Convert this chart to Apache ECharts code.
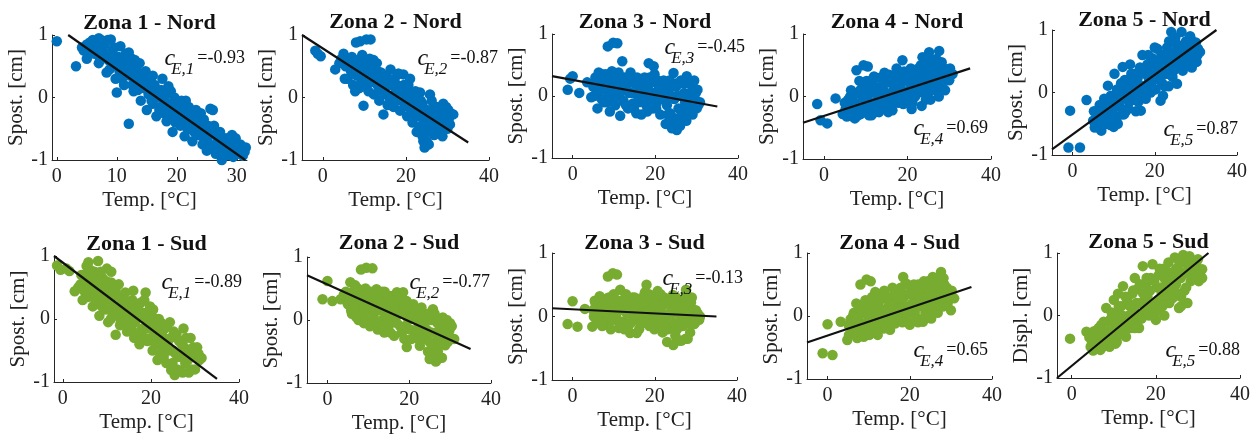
<!DOCTYPE html>
<html><head><meta charset="utf-8">
<script src="https://cdn.jsdelivr.net/npm/echarts@6/dist/echarts.min.js"></script>
<style>html,body{margin:0;padding:0;background:#fff}#c{width:1259px;height:437px}</style>
</head><body><div id="c"></div>
<script>
// ---------------- data ----------------
const titles = ['Zona 1 - Nord','Zona 2 - Nord','Zona 3 - Nord','Zona 4 - Nord','Zona 5 - Nord',
                'Zona 1 - Sud','Zona 2 - Sud','Zona 3 - Sud','Zona 4 - Sud','Zona 5 - Sud'];
const yNames = ['Spost. [cm]','Spost. [cm]','Spost. [cm]','Spost. [cm]','Spost. [cm]',
                'Spost. [cm]','Spost. [cm]','Spost. [cm]','Spost. [cm]','Displ. [cm]'];
const xName = 'Temp. [°C]';
const coefSub = ['E,1','E,2','E,3','E,4','E,5','E,1','E,2','E,3','E,4','E,5'];
const coefVal = ['-0.93','-0.87','-0.45','0.69','0.87','-0.89','-0.77','-0.13','0.65','0.88'];
const xTicks = [[0,10,20,30],[0,20,40],[0,20,40],[0,20,40],[0,20,40],
                [0,20,40],[0,20,40],[0,20,40],[0,20,40],[0,20,40]];
const yTicks = [-1,0,1];

const nord1 = [[0,0.9],[3.2,0.5],[4.2,0.8],[4.5,0.75],[5,0.62],[5.5,0.88],[5.8,0.78],[6,0.92],[6.3,0.7],[6.8,0.8],[7,0.55],[7.2,0.62],[7.4,0.92],[7.8,0.68],[8,0.85],[8.3,0.4],[8.6,0.6],[8.8,0.45],[9,0.93],[9.2,0.75],[9.5,0.5],[9.8,0.3],[10,0.08],[10.3,0.65],[10.6,0.82],[10.8,0.3],[11,0.45],[11.2,0.2],[11.5,0.7],[11.8,0.55],[12,-0.42],[12.2,0.35],[12.5,0.62],[12.8,0.1],[13,0.48],[13.3,0.25],[13.6,0.4],[13.8,0.55],[14,-0.05],[14.2,0.3],[14.5,0.15],[14.8,0.42],[15,-0.2],[15.3,0.05],[15.6,0.28],[16,-0.1],[16.3,0.2],[16.6,-0.3],[16.8,0.1],[17,0.0],[17.3,-0.15],[17.6,0.3],[18,-0.05],[18.3,-0.38],[18.6,0.18],[18.8,-0.2],[19,-0.25],[19.3,-0.55],[19.6,0.0],[19.8,-0.4],[20,-0.3],[20.3,-0.1],[20.6,-0.45],[21,-0.2],[21.3,-0.62],[21.6,-0.35],[22,-0.15],[22.3,-0.5],[22.6,-0.7],[23,-0.3],[23.3,-0.45],[23.6,-0.6],[24,-0.25],[24.3,-0.75],[24.6,-0.5],[25,-0.85],[25.3,-0.62],[25.6,-0.18],[26,-0.2],[26.2,-0.45],[26.5,-0.9],[26.8,-0.7],[27.2,-0.55],[27.5,-1.0],[27.8,-0.8],[28.2,-0.65],[28.5,-0.92],[28.8,-0.75],[29.2,-0.6],[29.5,-0.85],[30,-0.78],[30.4,-0.9],[30.8,-0.82],[31.3,-0.87],
  [5.2,0.72],[6.5,0.85],[7.5,0.75],[8.2,0.7],[9.4,0.62],[9.6,0.8],[10.2,0.55],[10.5,0.4],[11,0.62],[11.4,0.35],[11.6,0.5],[12.4,0.48],[12.6,0.2],[13.2,0.35],[13.5,0.12],[14.1,0.2],[14.4,0.32],[15.1,0.25],[15.4,0.12],[15.8,-0.05],[16.1,0.1],[16.5,0.05],[17.1,-0.2],[17.4,0.12],[17.8,-0.25],[18.2,0.05],[18.5,-0.12],[19.1,-0.1],[19.5,-0.3],[20.1,-0.18],[20.4,-0.35],[20.8,-0.05],[21.1,-0.42],[21.5,-0.25],[21.8,-0.5],[22.2,-0.3],[22.5,-0.4],[22.9,-0.55],[23.2,-0.2],[23.5,-0.38],[23.8,-0.5],[24.2,-0.62],[24.5,-0.35],[24.8,-0.7],[25.2,-0.45],[25.5,-0.75],[25.8,-0.55],[26.4,-0.8],[26.9,-0.6],[27.3,-0.85],[27.6,-0.68],[28,-0.9],[28.4,-0.8],[29,-0.72],[29.4,-0.95],[29.8,-0.65],[30.2,-0.85],[30.6,-0.75],[31,-0.93],[31.5,-0.8],[7,0.95],[8.5,0.92],[5,0.85],[12,0.72],[13,0.6],[16,0.35],[19,0.1],[21.5,-0.05]];
const nord2 = [[-1.8,0.75],[-1.2,0.7],[-0.5,0.66],[3,0.45],[4.5,0.62],[5,0.7],[5.3,0.3],[5.5,0.5],[6,0.3],[6.2,0.58],[6.8,0.42],[7,0.65],[7.3,0.2],[7.6,0.5],[7.8,0.1],[8,0.88],[8.2,0.35],[8.5,0.6],[8.8,0.15],[9,0.9],[9.2,0.48],[9.5,0.68],[9.8,-0.13],[10,0.3],[10.3,0.55],[10.5,0.93],[10.7,0.4],[11,0.1],[11.3,0.62],[11.5,0.93],[11.8,0.25],[12,0.45],[12.3,0.05],[12.6,0.35],[13,0.55],[13.3,0.18],[13.6,-0.05],[14,0.4],[14.3,0.22],[14.6,-0.27],[15,0.05],[15.3,0.35],[15.6,-0.12],[16,0.2],[16.3,0.45],[16.6,0.0],[17,-0.15],[17.3,0.3],[17.6,0.1],[18,-0.05],[18.3,0.38],[18.6,-0.21],[19,0.15],[19.4,0.37],[19.7,-0.1],[20,0.05],[20.3,-0.3],[20.6,0.2],[21,-0.15],[21.3,0.0],[21.6,-0.4],[22,-0.2],[22.3,0.1],[22.6,-0.55],[23,-0.3],[23.4,0.08],[23.7,-0.45],[24,-0.1],[24.2,-0.7],[24.5,-0.8],[24.8,-0.35],[25.2,-0.55],[25.5,-0.75],[25.8,0.05],[26,-0.2],[26.4,-0.45],[26.8,-0.6],[27.2,-0.3],[27.6,-0.5],[28,-0.15],[28.4,-0.4],[28.8,-0.62],[29,-0.1],[29.5,-0.3],[30,-0.5],[30.2,-0.2],[30.6,-0.43],[31.4,-0.27],
  [4,0.55],[5.8,0.62],[6.5,0.5],[7.2,0.55],[7.9,0.38],[8.4,0.5],[9,0.4],[9.4,0.25],[10.1,0.45],[10.5,0.2],[11,0.5],[11.5,0.35],[12.2,0.6],[12.5,0.25],[13.2,0.42],[13.8,0.3],[14.2,0.1],[14.8,0.35],[15.2,0.18],[15.8,0.3],[16.2,-0.05],[16.8,0.25],[17.2,0.05],[17.8,0.2],[18.1,0.38],[18.4,0.1],[19.2,-0.05],[19.5,0.2],[20.2,0.1],[20.5,-0.15],[21,0.3],[21.5,-0.1],[22.1,0.0],[22.5,-0.3],[23.2,-0.15],[23.6,-0.05],[24.3,-0.3],[24.6,-0.55],[25,-0.2],[25.3,-0.4],[25.9,-0.35],[26.2,-0.05],[26.6,-0.25],[27,-0.45],[27.4,-0.15],[27.8,-0.35],[28.2,-0.5],[28.6,-0.2],[29.2,-0.45],[29.7,-0.15],[30.3,-0.35],[30.8,-0.25],[25,-0.7],[24,-0.62],[23.2,-0.5]];
const nord3 = [[-1.2,0.1],[-0.6,0.28],[0,0.32],[1.6,0.05],[3.5,0.22],[4.5,-0.02],[5,0.15],[5.5,0.3],[6,0.05],[6,-0.2],[6.3,0.38],[6.7,0.2],[7,-0.05],[7.3,0.28],[7.7,0.12],[8,0.35],[8.3,-0.1],[8.5,0.8],[8.8,0.22],[9,-0.25],[9.2,0.05],[9.5,0.4],[9.8,0.86],[10,0.15],[10.3,-0.15],[10.8,0.85],[11,0.3],[11.3,0.0],[11.5,-0.32],[11.7,0.2],[12,0.56],[12.3,-0.08],[12.7,0.25],[13,0.1],[13.4,-0.2],[13.8,0.32],[14,0.38],[14.2,0.05],[14.6,-0.12],[15,0.2],[15.4,-0.28],[15.8,0.0],[16.2,0.18],[16.6,-0.3],[17,0.08],[17.4,0.3],[17.8,-0.15],[18.2,0.12],[18.4,0.53],[18.7,-0.05],[19,0.22],[19.4,-0.2],[19.6,0.48],[20,0.05],[20.4,-0.1],[20.8,0.15],[21.2,-0.3],[21.6,0.0],[22,0.25],[22.5,-0.45],[22.8,-0.15],[23.2,0.1],[23.6,-0.28],[24,-0.52],[24.4,0.37],[24.6,-0.05],[25,0.15],[25.2,-0.55],[25.6,-0.2],[26,-0.48],[26.4,0.0],[26.8,0.2],[27.2,-0.1],[27.5,-0.4],[27.6,0.32],[28,-0.25],[28.4,0.05],[28.8,-0.15],[29.2,0.13],[29.6,-0.05],[30,-0.2],[30.8,-0.1],
  [5.2,0.0],[5.8,0.2],[6.5,0.1],[7.2,0.35],[7.5,-0.1],[8.1,0.18],[8.6,0.05],[9.1,0.3],[9.7,-0.05],[10.2,0.25],[10.6,0.05],[11.1,0.38],[11.9,0.1],[12.5,0.3],[12.9,-0.15],[13.2,0.2],[13.6,0.05],[14.4,0.25],[14.8,-0.2],[15.2,0.05],[15.6,0.3],[16,-0.1],[16.4,0.1],[17.2,-0.05],[17.6,0.15],[18,-0.25],[18.6,0.3],[19.2,0.05],[19.8,0.35],[20.2,-0.2],[20.6,0.25],[21,-0.05],[21.4,0.2],[22.2,-0.05],[22.6,0.1],[23,-0.3],[23.4,0.25],[23.9,0.0],[24.3,-0.35],[24.8,0.2],[25.4,0.0],[25.8,-0.35],[26.2,0.25],[26.6,-0.25],[27,0.05],[27.8,-0.2],[28.2,0.2],[28.6,-0.05],[29,-0.3],[29.4,0.25],[29.8,0.05],[30.4,-0.15],[30.2,0.1],[25,-0.45],[23.5,-0.45]];
const nord4 = [[-1.6,-0.12],[-0.8,-0.38],[0.8,-0.43],[2.8,-0.03],[4.5,-0.28],[5,-0.1],[5.5,-0.32],[6,-0.18],[6.3,0.0],[6.5,0.1],[6.7,-0.25],[7,-0.08],[7.4,-0.35],[7.8,0.42],[8,-0.15],[8.4,0.05],[8.5,0.25],[8.8,-0.28],[9.2,-0.05],[9.5,0.5],[9.8,0.12],[10,-0.2],[10.4,0.0],[10.5,0.48],[10.8,-0.3],[11.2,0.2],[11.5,-0.12],[11.9,0.08],[12,0.32],[12.3,-0.25],[12.7,0.15],[13,-0.05],[13.4,0.3],[13.8,-0.18],[14.2,0.1],[14.5,0.38],[14.6,-0.02],[15,0.22],[15.4,-0.25],[15.8,0.05],[16.2,0.3],[16.4,-0.22],[16.8,0.12],[17.2,-0.08],[17.6,0.35],[18,0.05],[18.4,0.2],[18.8,0.58],[19,-0.12],[19.4,0.28],[19.8,0.08],[20.2,0.4],[20.6,-0.05],[21,0.18],[21,-0.2],[21.4,0.35],[21.8,0.0],[22.2,0.25],[22.6,0.45],[23,0.1],[23.4,-0.15],[23.6,0.63],[23.8,0.3],[24.2,0.05],[24.6,0.4],[25,0.18],[25.2,0.71],[25.5,-0.05],[25.9,0.32],[26.3,0.12],[26.7,0.5],[27.1,0.22],[27.5,0.0],[27.6,0.73],[28,0.38],[28.4,0.15],[28.8,0.45],[29.2,0.28],[30,0.26],[30.8,0.36],
  [5.2,-0.2],[5.8,-0.05],[6.2,-0.3],[6.9,-0.15],[7.2,0.05],[7.6,-0.22],[8.2,-0.3],[8.7,0.1],[9,-0.18],[9.4,0.15],[9.9,-0.1],[10.2,0.25],[10.6,-0.18],[11,0.05],[11.4,-0.3],[11.7,0.28],[12.1,-0.1],[12.5,0.05],[13.2,-0.25],[13.6,0.15],[14,-0.1],[14.4,0.25],[14.8,-0.2],[15.2,0.05],[15.6,0.35],[16,-0.1],[16.6,0.22],[17,0.0],[17.4,0.45],[17.8,-0.1],[18.2,0.3],[18.6,0.05],[19.2,0.4],[19.6,-0.05],[20,0.25],[20.4,0.1],[20.8,0.45],[21.2,-0.1],[21.6,0.2],[22,0.4],[22.4,0.05],[22.8,0.3],[23.2,0.5],[23.5,0.15],[24,0.35],[24.4,-0.05],[24.8,0.25],[25.3,0.5],[25.7,0.1],[26.1,0.4],[26.5,0.2],[26.9,0.6],[27.3,0.35],[27.8,0.15],[28.2,0.55],[28.6,0.3],[29,0.1],[29.5,0.4],[30.2,0.45],[25.5,0.6],[24,0.6]];
const nord5 = [[-1,-0.88],[-0.6,-0.29],[1.8,-0.88],[3.4,-0.12],[5,-0.45],[5.4,-0.56],[5.8,-0.3],[6.2,-0.48],[6.6,-0.2],[7,-0.61],[7.3,-0.38],[7.7,-0.1],[8,-0.5],[8.3,-0.25],[8.6,0.11],[9,-0.42],[9.3,-0.05],[9.6,-0.3],[10,-0.55],[10.2,0.3],[10.5,-0.15],[10.8,0.05],[11,-0.5],[11.4,-0.22],[11.8,0.15],[12.2,0.41],[12.5,-0.35],[12.8,-0.05],[13.2,0.2],[13.5,-0.25],[13.9,0.05],[14,0.45],[14.3,0.3],[14.6,-0.12],[15,0.1],[15.4,-0.3],[15.8,0.22],[16.2,0.0],[16.6,-0.29],[17,0.35],[17,0.6],[17.4,0.1],[17.8,-0.1],[18.2,0.45],[18.6,0.2],[19,0.0],[19.4,0.55],[19.8,0.3],[20,0.72],[20.2,0.05],[20.6,0.7],[21,0.4],[21.4,-0.13],[21.8,0.15],[22,-0.05],[22.2,0.6],[22.6,0.3],[23,0.72],[23.4,0.1],[23.8,0.45],[24,0.97],[24.3,0.25],[24.7,0.65],[25,0.8],[25.4,0.14],[25.8,0.5],[26.2,0.75],[26.5,0.97],[26.8,0.35],[27.2,0.6],[27.6,0.82],[28,0.45],[28.4,0.7],[28.8,0.85],[29.2,0.55],[29.6,0.75],[30.2,0.49],[30.5,0.7],[31,0.65],
  [5.2,-0.3],[5.6,-0.45],[6,-0.55],[6.4,-0.35],[6.8,-0.48],[7.2,-0.25],[7.5,-0.52],[7.9,-0.35],[8.2,-0.15],[8.5,-0.45],[8.9,-0.2],[9.2,-0.52],[9.5,-0.12],[9.9,-0.35],[10.3,-0.05],[10.6,-0.4],[11.1,-0.2],[11.5,0.05],[11.9,-0.35],[12.3,-0.1],[12.7,0.2],[13,-0.3],[13.4,0.05],[13.8,-0.15],[14.2,0.15],[14.8,-0.05],[15.2,0.3],[15.6,0.05],[16,-0.15],[16.4,0.4],[16.8,0.1],[17.2,-0.05],[17.6,0.3],[18,0.1],[18.4,0.6],[18.8,0.35],[19.2,0.15],[19.6,0.45],[20.4,0.3],[20.8,0.5],[21.2,0.2],[21.6,0.6],[22,0.35],[22.4,0.1],[22.8,0.5],[23.2,0.3],[23.6,0.65],[24.2,0.5],[24.6,0.35],[25,0.6],[25.6,0.7],[26,0.4],[26.4,0.6],[26.9,0.75],[27.4,0.5],[27.9,0.7],[28.2,0.6],[28.6,0.9],[29,0.4],[29.4,0.65],[30,0.8],[30.4,0.6],[25,0.88],[23.5,0.82]];
const sud1 = [[-1.3,0.85],[-0.5,0.78],[0.8,0.8],[1.5,0.76],[2.7,0.44],[4,0.55],[4.5,0.3],[5,0.7],[5.4,0.84],[5.8,0.9],[6,0.45],[6.4,0.62],[6.8,0.2],[7,0.35],[7.2,0.75],[7.6,0.5],[8,0.92],[8.3,0.05],[8.6,0.35],[9,0.65],[9.3,0.15],[9.7,0.45],[10,0.8],[10.3,-0.05],[10.7,0.3],[11,0.58],[11,0.75],[11.4,0.1],[11.8,0.4],[12,-0.25],[12.3,0.2],[12.7,0.55],[13,-0.1],[13.4,0.3],[13.8,0.05],[14.2,0.42],[14.6,-0.2],[15,0.15],[15.4,-0.05],[15.8,0.3],[16,0.45],[16.2,-0.3],[16.6,0.0],[17,0.18],[17.4,-0.4],[17.7,0.26],[18,-0.15],[18.4,0.05],[18.8,0.42],[19.2,-0.35],[19.6,-0.1],[20,0.1],[20.4,-0.5],[20.8,-0.2],[21.2,0.0],[21.5,-0.65],[21.9,-0.3],[22.3,-0.06],[22.7,-0.45],[23.1,-0.15],[23.5,-0.7],[23.9,-0.35],[24.3,-0.05],[24.6,-0.81],[25,-0.5],[25.4,-0.89],[25.8,-0.25],[26.2,-0.6],[26.6,-0.82],[27,-0.4],[27.4,-0.15],[27.8,-0.7],[28.2,-0.5],[28.6,-0.85],[29,-0.3],[29.4,-0.6],[30,-0.8],[30.5,-0.45],[31,-0.65],[31.5,-0.62],
  [3.5,0.5],[4.2,0.7],[4.8,0.45],[5.2,0.6],[5.6,0.35],[6.2,0.78],[6.6,0.5],[7,0.65],[7.4,0.3],[7.8,0.6],[8.2,0.45],[8.6,0.75],[8.9,0.2],[9.2,0.5],[9.5,0.3],[9.9,0.6],[10.2,0.15],[10.5,0.45],[10.9,0.0],[11.2,0.35],[11.6,0.2],[12,0.45],[12.5,0.05],[12.9,0.35],[13.2,-0.05],[13.6,0.15],[14,0.3],[14.4,-0.1],[14.8,0.05],[15.2,0.25],[15.6,-0.15],[16,0.1],[16.4,-0.05],[16.8,-0.25],[17.2,0.05],[17.6,-0.2],[18.2,0.1],[18.6,-0.3],[19,0.0],[19.4,-0.15],[19.8,0.2],[20.2,-0.3],[20.6,-0.05],[21,-0.4],[21.4,-0.15],[21.8,0.0],[22.1,-0.55],[22.5,-0.25],[22.9,-0.6],[23.3,-0.35],[23.7,-0.1],[24.1,-0.5],[24.5,-0.3],[24.9,-0.7],[25.2,-0.2],[25.6,-0.55],[26,-0.8],[26.4,-0.35],[26.8,-0.6],[27.2,-0.85],[27.6,-0.45],[28,-0.3],[28.4,-0.65],[28.8,-0.5],[29.2,-0.8],[29.6,-0.45],[30.2,-0.6],[30.8,-0.55],[18.5,0.3],[20.5,0.15]];
const sud2 = [[-1.2,0.33],[0,0.62],[1.2,0.3],[3.2,0.33],[4.5,0.45],[5,0.25],[5.6,0.6],[6,0.1],[6.4,0.4],[6.8,0.55],[7,0.35],[7.2,0.2],[7.6,0.0],[8,0.45],[8.2,0.8],[8.5,0.3],[8.9,-0.05],[9.3,0.5],[9.5,0.83],[9.7,0.15],[10,0.35],[10.4,-0.1],[10.8,0.25],[11,0.82],[11.3,0.05],[11.7,0.4],[12,0.49],[12.3,-0.15],[12.7,0.2],[13.1,0.35],[13.5,0.0],[13.9,-0.2],[14,0.45],[14.3,0.3],[14.7,0.1],[15.1,-0.08],[15.5,0.38],[15.9,0.15],[16.3,-0.25],[16.7,0.05],[17,0.44],[17.4,0.2],[17.8,-0.1],[18.2,0.3],[18.5,0.44],[18.8,-0.3],[19.1,0.08],[19.4,-0.43],[19.8,0.2],[20.2,-0.15],[20.6,0.05],[21,0.25],[21.4,-0.25],[21.8,0.0],[22.2,0.15],[22.6,-0.41],[23,-0.1],[23.4,0.1],[23.8,-0.3],[24.2,0.0],[24.6,-0.5],[25,-0.62],[25.4,-0.2],[25.8,0.17],[26.2,-0.35],[26.5,-0.66],[26.9,-0.05],[27.3,-0.4],[27.7,-0.15],[28,-0.6],[28.2,0.04],[28.6,-0.25],[29,-0.05],[29.4,-0.35],[29.8,-0.17],[30.4,-0.1],[31,-0.3],
  [4,0.4],[5.3,0.35],[5.8,0.15],[6.2,0.45],[6.6,0.25],[7,0.05],[7.4,0.5],[7.8,0.3],[8.2,0.1],[8.6,0.4],[9,0.2],[9.4,0.0],[9.8,0.4],[10.2,0.15],[10.6,0.45],[11,-0.05],[11.4,0.3],[11.8,0.15],[12.2,0.35],[12.6,-0.05],[13,0.15],[13.4,0.45],[13.8,0.25],[14.2,0.05],[14.6,-0.1],[15,0.2],[15.4,-0.2],[15.8,0.0],[16.2,0.3],[16.6,0.15],[17,-0.05],[17.4,0.35],[17.8,0.1],[18.2,-0.2],[18.6,0.2],[19,-0.1],[19.4,0.3],[19.8,0.0],[20.2,0.15],[20.6,-0.3],[21,0.05],[21.4,0.15],[21.8,-0.15],[22.2,-0.3],[22.6,0.05],[23,0.2],[23.4,-0.25],[23.8,0.05],[24.2,-0.15],[24.6,0.1],[25,-0.35],[25.4,0.0],[25.8,-0.5],[26.2,0.1],[26.6,-0.2],[27,-0.5],[27.4,0.0],[27.8,-0.3],[28.4,-0.1],[28.8,-0.4],[29.2,0.0],[29.6,-0.25],[30,-0.05],[30.5,-0.3],[27,-0.62]];
const sud3 = [[-1.2,-0.12],[0,0.24],[1.2,-0.16],[3,0.12],[4.8,-0.16],[5,0.1],[5.4,0.25],[5.8,-0.05],[6.2,0.15],[6.6,0.32],[7,0.0],[7.4,0.2],[7.8,-0.12],[8,-0.1],[8.2,0.28],[8.6,0.63],[8.9,0.05],[9.3,-0.2],[9.6,0.18],[9.8,0.68],[10,0.35],[10.4,-0.05],[10.8,0.66],[11,0.1],[11.3,-0.18],[11.6,0.42],[12,0.2],[12.4,-0.08],[12.8,0.3],[13,0.35],[13.2,0.05],[13.6,-0.15],[14,-0.26],[14.3,0.22],[14.7,0.0],[15.1,0.3],[15.6,-0.26],[16,0.12],[16.4,-0.1],[16.8,0.25],[17.2,0.0],[17.6,0.38],[18,0.5],[18.3,0.15],[18.7,-0.15],[19.1,0.28],[19.5,0.05],[19.9,-0.2],[20.3,0.2],[20.7,0.4],[21,0.3],[21.1,-0.05],[21.5,0.15],[21.9,-0.25],[22.3,0.3],[22.8,0.0],[23,-0.4],[23.4,0.2],[23.8,-0.15],[24.2,0.05],[24.4,0.34],[24.5,-0.45],[25,0.15],[25.4,-0.2],[25.8,0.25],[26,-0.38],[26.4,0.0],[26.8,-0.15],[27.2,0.2],[27.5,-0.35],[27.6,0.42],[28,0.05],[28.4,-0.1],[28.8,0.22],[29.2,0.0],[29.6,-0.12],[30,0.1],[30.8,-0.05],
  [5.2,0.0],[5.6,0.2],[6,-0.1],[6.4,0.05],[6.8,0.25],[7.2,-0.15],[7.6,0.1],[8.4,0.05],[8.8,0.3],[9.2,0.1],[9.6,-0.05],[10.2,0.2],[10.6,0.0],[11.2,0.25],[11.8,-0.1],[12.2,0.1],[12.6,-0.2],[13.4,0.2],[13.8,0.05],[14.2,-0.1],[14.6,0.3],[15,0.1],[15.4,0.0],[15.8,0.2],[16.2,-0.2],[16.6,0.05],[17,0.3],[17.4,-0.1],[17.8,0.2],[18.2,-0.05],[18.6,0.35],[19,0.1],[19.4,-0.1],[19.8,0.25],[20.2,0.0],[20.6,-0.15],[21,0.15],[21.4,0.35],[21.8,0.05],[22.2,-0.1],[22.6,0.2],[23.2,-0.2],[23.6,0.05],[24,0.25],[24.6,-0.1],[25,-0.3],[25.2,0.3],[25.6,0.05],[26.2,-0.15],[26.6,0.15],[27,-0.05],[27.4,0.3],[27.8,-0.1],[28.2,0.1],[28.6,-0.25],[29,0.3],[29.4,0.1],[29.8,-0.1],[30.4,0.05],[31,0.0],[26.5,-0.38],[28,-0.35]];
const sud4 = [[-1.2,-0.59],[0,-0.13],[1.2,-0.62],[3.2,-0.09],[4.8,-0.38],[5.2,-0.15],[5.6,-0.05],[6,-0.28],[6.4,0.05],[6.8,-0.2],[7,0.2],[7.2,-0.35],[7.6,0.0],[8,0.5],[8.3,-0.12],[8.8,-0.33],[9.1,0.1],[9.4,-0.22],[9.5,0.58],[9.8,0.0],[10.2,-0.3],[10.5,0.55],[10.6,0.15],[11,-0.1],[11.4,0.05],[11.6,0.38],[12,-0.25],[12.4,0.2],[12.8,-0.05],[13,0.35],[13.2,0.1],[13.6,-0.2],[14,0.28],[14.4,0.0],[14.8,0.15],[15.2,-0.22],[15.6,0.3],[16,0.05],[16.4,-0.12],[16.8,0.2],[17.2,0.4],[17.6,0.0],[18,0.25],[18.4,0.62],[18.8,0.1],[19,0.52],[19.2,-0.08],[19.6,0.35],[20,-0.14],[20.4,0.18],[20.8,0.45],[21.2,0.05],[21.6,0.3],[22,0.5],[22,-0.1],[22.4,-0.05],[22.8,0.2],[23.2,-0.09],[23.6,0.4],[24,0.15],[24.4,0.55],[24.8,0.3],[25.2,-0.04],[25.6,0.62],[26,0.2],[26.4,0.42],[26.8,0.05],[27.2,0.3],[27.6,0.7],[28,0.15],[28.4,0.5],[28.8,0.35],[29.2,0.2],[30,0.09],[30.8,0.28],
  [5.2,-0.3],[5.8,-0.15],[6.2,0.0],[6.6,-0.25],[7,-0.05],[7.4,-0.2],[7.8,0.15],[8.2,-0.25],[8.6,0.05],[9,-0.15],[9.2,0.25],[9.6,-0.3],[10,0.1],[10.4,-0.15],[10.8,0.3],[11.2,-0.2],[11.6,0.1],[12,0.0],[12.2,-0.3],[12.6,0.3],[13,-0.15],[13.4,0.0],[13.8,0.4],[14.2,-0.15],[14.6,0.3],[15,0.05],[15.4,-0.1],[15.8,0.45],[16.2,0.15],[16.6,-0.05],[17,0.3],[17.4,0.1],[17.8,0.45],[18.2,-0.1],[18.6,0.3],[19,0.15],[19.4,0.5],[19.8,0.05],[20.2,0.35],[20.6,0.2],[21,0.5],[21.4,-0.05],[21.8,0.35],[22.2,0.15],[22.6,0.4],[23,0.25],[23.4,0.55],[23.8,0.05],[24.2,0.45],[24.6,0.15],[25,0.35],[25.4,0.5],[25.8,0.05],[26.2,0.6],[26.6,0.3],[27,0.5],[27.4,0.15],[27.8,0.4],[28.2,0.6],[28.6,0.2],[29,0.45],[29.6,0.3],[30.2,0.4]];
const sud5 = [[-0.4,-0.37],[3.5,-0.26],[4.5,-0.5],[5.1,-0.56],[5.5,-0.35],[6,-0.45],[6.4,-0.2],[6.8,-0.55],[7.2,-0.3],[7.6,-0.1],[8,-0.45],[8.2,0.12],[8.6,-0.25],[9,-0.5],[9.3,-0.05],[9.7,-0.35],[10,0.25],[10.3,-0.15],[10.7,-0.42],[11,0.05],[11,0.35],[11.4,-0.25],[11.8,0.15],[12.2,0.47],[12.5,-0.1],[12.9,-0.34],[13.2,0.25],[13.6,0.0],[14,-0.2],[14.4,0.35],[14.8,0.1],[15,0.6],[15.2,-0.12],[15.6,0.42],[16,-0.2],[16.4,0.2],[16.9,0.79],[17.2,0.05],[17.6,0.5],[18,0.3],[18.4,0.0],[18.8,0.6],[19.2,0.82],[19.5,0.2],[20,-0.07],[20.3,0.45],[20.7,0.65],[21,0.1],[21.4,0.35],[21.8,0.75],[22,0.0],[22.2,0.2],[22.6,0.55],[23,0.85],[23.4,0.4],[24,0.28],[24.2,0.65],[24.5,0.93],[24.8,0.5],[25.2,0.75],[25.5,0.12],[25.9,0.6],[26.3,0.85],[26.5,0.97],[26.8,0.4],[27.2,0.7],[27.6,0.88],[28,0.95],[28.3,0.55],[28.7,0.78],[29.1,0.65],[29.6,0.85],[30.2,0.55],[30.6,0.72],[31,0.74],
  [4.2,-0.35],[4.8,-0.42],[5.3,-0.25],[5.8,-0.5],[6.2,-0.3],[6.6,-0.45],[7,-0.15],[7.4,-0.5],[7.8,-0.3],[8.4,-0.4],[8.8,-0.1],[9.2,-0.3],[9.5,0.05],[9.9,-0.25],[10.4,-0.45],[10.8,-0.1],[11.2,0.15],[11.6,-0.3],[12,0.0],[12.4,-0.2],[12.8,0.3],[13.4,-0.15],[13.8,0.15],[14.2,-0.05],[14.6,0.4],[15,-0.2],[15.4,0.2],[15.8,0.0],[16.2,0.5],[16.6,-0.05],[17,0.35],[17.4,0.15],[17.8,0.6],[18.2,0.1],[18.6,0.4],[19,0.2],[19.6,0.55],[19.9,0.05],[20.5,0.25],[20.9,0.75],[21.2,0.45],[21.6,0.15],[22,0.6],[22.4,0.35],[22.8,0.7],[23.2,0.2],[23.6,0.6],[24.4,0.4],[24.8,0.75],[25.2,0.35],[25.6,0.85],[26,0.3],[26.4,0.65],[26.8,0.9],[27.2,0.45],[27.8,0.75],[28.2,0.9],[28.6,0.6],[29,0.85],[29.4,0.7],[30,0.9],[30.4,0.65],[31,0.6],[27.5,0.2],[26,0.15]];

// regression lines (end points)
const fitNord1 = [[1.9,1],[31.4,-1]];
const fitNord2 = [[-5,1],[35,-0.72]];
const fitNord3 = [[-5,0.32],[35,-0.17]];
const fitNord4 = [[-5,-0.42],[35,0.45]];
const fitNord5 = [[-5,-0.91],[35,1.0]];
const fitSud1 = [[-2,1],[35,-0.95]];
const fitSud2 = [[-5,0.71],[35,-0.46]];
const fitSud3 = [[-5,0.13],[35,0.0]];
const fitSud4 = [[-5,-0.42],[35,0.46]];
const fitSud5 = [[-3.5,-1],[32.5,1]];

const points = [nord1,nord2,nord3,nord4,nord5,sud1,sud2,sud3,sud4,sud5];
const fits = [fitNord1,fitNord2,fitNord3,fitNord4,fitNord5,fitSud1,fitSud2,fitSud3,fitSud4,fitSud5];

// ---------------- layout ----------------
const layout = [
  {l:52,  t:35,  w:195, h:125, xmin:-0.8, xmax:31.7, ty:23,  ax:245,  ay:58},
  {l:302, t:35,  w:187, h:125, xmin:-5,   xmax:40,   ty:22,  ax:498,  ay:58},
  {l:552, t:34,  w:186, h:124, xmin:-5,   xmax:40,   ty:22,  ax:745,  ay:47},
  {l:803, t:34,  w:188, h:125, xmin:-5,   xmax:40,   ty:22,  ax:988,  ay:128},
  {l:1052,t:30,  w:185, h:125, xmin:-5,   xmax:40,   ty:20,  ax:1238, ay:129},
  {l:54,  t:256, w:185, h:126, xmin:-2,   xmax:40,   ty:244, ax:242,  ay:282},
  {l:307, t:257, w:184, h:126, xmin:-5,   xmax:40,   ty:243, ax:490,  ay:282},
  {l:552, t:253, w:185, h:127, xmin:-5,   xmax:40,   ty:243, ax:743,  ay:278},
  {l:807, t:253, w:185, h:126, xmin:-5,   xmax:40,   ty:243, ax:988,  ay:350},
  {l:1057,t:253, w:183, h:125, xmin:-3.5, xmax:40,   ty:242, ax:1240, ay:350}
];
const FONT = '"Liberation Serif","Times New Roman",serif';
const AXC = '#262626';
const colors = ['#0072BD','#0072BD','#0072BD','#0072BD','#0072BD','#77AC30','#77AC30','#77AC30','#77AC30','#77AC30'];

const ctx = document.createElement('canvas').getContext('2d');
function tw(text, font){ ctx.font = font; return ctx.measureText(text).width; }

const grids=[], xAxes=[], yAxes=[], series=[], graphics=[];
layout.forEach((L,i)=>{
  grids.push({left:L.l, top:L.t, width:L.w, height:L.h, containLabel:false});
  xAxes.push({
    gridIndex:i, type:'value', min:L.xmin, max:L.xmax,
    axisLine:{show:true, onZero:false, lineStyle:{color:AXC, width:1}},
    axisTick:{show:true, inside:true, length:3, customValues:xTicks[i], lineStyle:{color:AXC}},
    axisLabel:{customValues:xTicks[i], fontSize:20, fontFamily:FONT, color:'#222', margin:7, showMinLabel:true, showMaxLabel:true},
    splitLine:{show:false},
    name:xName, nameLocation:'middle', nameGap:30,
    nameTextStyle:{fontSize:21, fontFamily:FONT, color:'#222'}
  });
  yAxes.push({
    gridIndex:i, type:'value', min:-1, max:1,
    axisLine:{show:true, onZero:false, lineStyle:{color:AXC, width:1}},
    axisTick:{show:true, inside:true, length:3, customValues:yTicks, lineStyle:{color:AXC}},
    axisLabel:{customValues:yTicks, fontSize:20, fontFamily:FONT, color:'#222', margin:4, showMinLabel:true, showMaxLabel:true},
    splitLine:{show:false},
    name:yNames[i], nameLocation:'middle', nameGap:16,
    nameTextStyle:{fontSize:21, fontFamily:FONT, color:'#222'}
  });
  series.push({
    type:'scatter', xAxisIndex:i, yAxisIndex:i, data:points[i],
    symbol:'circle', symbolSize:10.5, itemStyle:{color:colors[i], opacity:1}, z:2
  });
  series.push({
    type:'line', xAxisIndex:i, yAxisIndex:i, data:fits[i], symbol:'none',
    lineStyle:{color:'#111', width:2.2}, z:3, silent:true
  });
  graphics.push({type:'text', x:L.l + L.w/2, y:L.ty, z:10,
    style:{text:titles[i], font:'bold 22px '+FONT, fill:'#111', align:'center', verticalAlign:'middle', textAlign:'center', textVerticalAlign:'middle'}});
  const fV = '18px '+FONT, fS = 'italic 17px '+FONT, fC = 'italic 24px '+FONT;
  const vTxt = '='+coefVal[i];
  const wV = tw(vTxt, fV), wS = tw(coefSub[i], fS);
  const sRight = L.ax - wV - 3;
  const sLeft = sRight - wS;
  graphics.push({type:'text', x:L.ax, y:L.ay, z:10,
    style:{text:vTxt, font:fV, fill:'#111', align:'right', verticalAlign:'middle', textAlign:'right', textVerticalAlign:'middle'}});
  graphics.push({type:'text', x:sRight, y:L.ay+12, z:10,
    style:{text:coefSub[i], font:fS, fill:'#111', align:'right', verticalAlign:'middle', textAlign:'right', textVerticalAlign:'middle'}});
  graphics.push({type:'text', x:sLeft+4, y:L.ay+1, z:10,
    style:{text:'c', font:fC, fill:'#111', align:'right', verticalAlign:'middle', textAlign:'right', textVerticalAlign:'middle'}});
});

const chart = echarts.init(document.getElementById('c'), null, {renderer:'canvas'});
chart.setOption({
  animation:false,
  backgroundColor:'#fff',
  grid:grids, xAxis:xAxes, yAxis:yAxes, series:series, graphic:graphics
});
</script>
</body></html>
